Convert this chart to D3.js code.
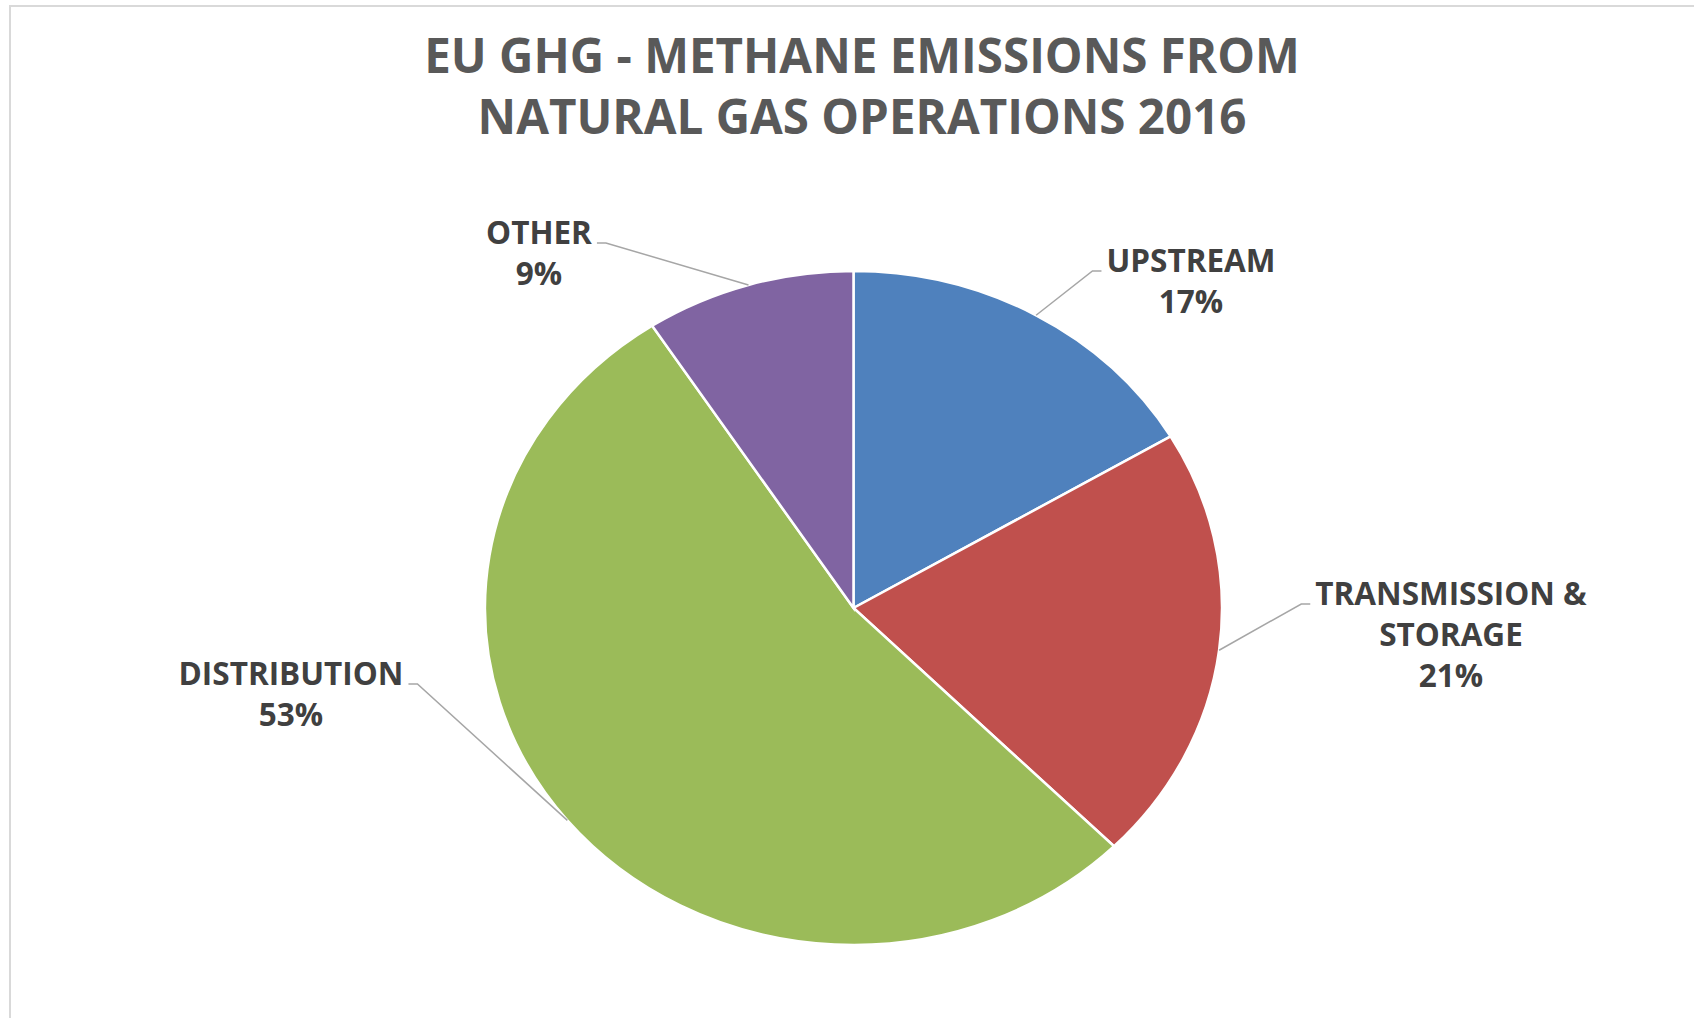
<!DOCTYPE html>
<html>
<head>
<meta charset="utf-8">
<script src="https://cdn.jsdelivr.net/npm/d3@7"></script>
<style>
  html, body { margin: 0; padding: 0; background: #fff; }
  text { font-family: "Open Sans", "Noto Sans", sans-serif; font-weight: 700; }
</style>
</head>
<body>
<div id="chart"></div>
<script>
'use strict';

// data (share of methane emissions, %)
const categories = ['UPSTREAM', 'TRANSMISSION & STORAGE', 'DISTRIBUTION', 'OTHER'];
const values = [16.5, 21.0, 53.3, 9.2];
const colors = ['#4f81bd', '#c0504d', '#9bbb59', '#8064a2'];
const titleLines = ['EU GHG - METHANE EMISSIONS FROM', 'NATURAL GAS OPERATIONS 2016'];

// where each label sits (centre x, first baseline) and which side the leader leaves from
const labelLayout = [
  { x: 1191, y: 272, side: 'left' },
  { x: 1451, y: 605, side: 'left' },
  { x: 291, y: 685, side: 'right' },
  { x: 539, y: 244, side: 'right' }
];

function drawChart(elementID, width, height) {
  const svg = d3.select('#' + elementID)
    .append('svg')
    .attr('width', width)
    .attr('height', height);

  // chart area border (only top and left visible)
  svg.append('rect')
    .attr('x', 10).attr('y', 6)
    .attr('width', width + 50).attr('height', height + 50)
    .attr('fill', 'none')
    .attr('stroke', '#d9d9d9')
    .attr('stroke-width', 2);

  // title
  svg.append('g')
    .selectAll('text')
    .data(titleLines)
    .enter()
    .append('text')
    .attr('x', 862)
    .attr('y', (d, i) => 73 + i * 61)
    .attr('text-anchor', 'middle')
    .attr('fill', '#595959')
    .style('font-size', '47.5px')
    .text(d => d);

  // the pie is stretched a bit horizontally in the original
  const cx = 853.5, cy = 608, rx = 368.5, ry = 337;
  const sx = rx / ry;

  const pie = d3.pie().sort(null).value(d => d.value);
  const arcs = pie(categories.map((c, i) => ({ name: c, value: values[i], i })));
  const arc = d3.arc().innerRadius(0).outerRadius(ry);

  const pieG = svg.append('g')
    .attr('transform', `translate(${cx},${cy}) scale(${sx},1)`);

  pieG.selectAll('.slice')
    .data(arcs)
    .enter()
    .append('path')
    .attr('class', 'slice')
    .attr('d', arc)
    .attr('fill', d => colors[d.data.i])
    .attr('stroke', '#fff')
    .attr('stroke-width', 2.5)
    .attr('vector-effect', 'non-scaling-stroke');

  const total = d3.sum(values);
  const lineH = 41;
  const fs = '31.5px';

  const labels = svg.selectAll('.label')
    .data(arcs)
    .enter()
    .append('g')
    .attr('class', 'label');

  labels.each(function (d) {
    const g = d3.select(this);
    const lay = labelLayout[d.data.i];

    // wrap long names
    const words = d.data.name.split(' ');
    const lines = [];
    let cur = '';
    const probe = g.append('text').style('font-size', fs);
    words.forEach(w => {
      const test = cur ? cur + ' ' + w : w;
      probe.text(test);
      if (cur && probe.node().getComputedTextLength() > 300) {
        lines.push(cur);
        cur = w;
      } else {
        cur = test;
      }
    });
    lines.push(cur);
    probe.remove();
    lines.push(Math.round(d.data.value / total * 100) + '%');

    const txt = g.selectAll('text')
      .data(lines)
      .enter()
      .append('text')
      .attr('x', lay.x)
      .attr('y', (t, j) => lay.y + j * lineH)
      .attr('text-anchor', 'middle')
      .attr('fill', '#404040')
      .style('font-size', fs)
      .text(t => t);

    // leader line: from first text line to slice edge at mid angle
    const w0 = txt.nodes()[0].getComputedTextLength();
    const mid = (d.startAngle + d.endAngle) / 2;
    const ex = cx + rx * Math.sin(mid);
    const ey = cy - ry * Math.cos(mid);
    const dir = lay.side === 'left' ? -1 : 1;
    const x0 = lay.x + dir * (w0 / 2 + 5);
    const x1 = x0 + dir * 9;
    const ly = lay.y - 1;

    g.append('path')
      .attr('d', d3.line()([[x0, ly], [x1, ly], [ex, ey]]))
      .attr('fill', 'none')
      .attr('stroke', '#a6a6a6')
      .attr('stroke-width', 1.5);
  });
}

drawChart('chart', 1694, 1018);
</script>
</body>
</html>
